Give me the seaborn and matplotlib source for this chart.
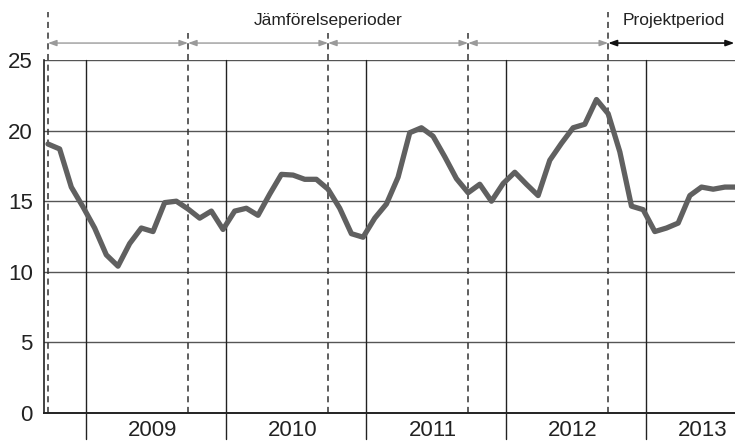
import pandas as pd
import matplotlib.pyplot as plt
import seaborn as sns
import numpy as np

# monthly values, first point = start of the first comparison period
values = [19.05, 18.7, 16.0, 14.6, 13.1, 11.2, 10.4, 12.0, 13.1, 12.85, 14.9, 15.0,
          14.45, 13.8, 14.3, 13.0, 14.3, 14.5, 14.0, 15.5, 16.9, 16.85, 16.55, 16.55,
          15.85, 14.5, 12.7, 12.45, 13.8, 14.8, 16.7, 19.85, 20.2, 19.6, 18.15, 16.6,
          15.6, 16.2, 15.0, 16.25, 17.05, 16.2, 15.4, 17.9, 19.1, 20.2, 20.45, 22.2,
          21.2, 18.5, 14.65, 14.4, 12.85, 13.1, 13.45, 15.4, 16.0, 15.85, 16.0, 16.0]
years = ["2009", "2010", "2011", "2012", "2013"]
yticks = [0, 5, 10, 15, 20, 25]
period_label = "Jämförelseperioder"
project_label = "Projektperiod"

df = pd.DataFrame({"month": np.arange(len(values)), "value": values})

sns.set_style("white")
plt.rcParams["font.family"] = ["Liberation Sans", "DejaVu Sans"]

fig = plt.figure(figsize=(7.35, 4.41), dpi=100)
ax = fig.add_axes([44 / 735, 28 / 441, 691 / 735, 353 / 441])

xmin, xmax = -0.34, 58.87
year_start = 3.25  # first year line, in months from first point

# horizontal grid
for t in yticks[1:]:
    ax.axhline(t, color="#555555", lw=1.0, zorder=1)

# year lines, running down into the label area
for k, yr in enumerate(years):
    xs = year_start + 12 * k
    ax.plot([xs, xs], [-0.075, 1.0], transform=ax.get_xaxis_transform(),
            color="#222222", lw=1.0, clip_on=False, zorder=1)
    xl = min(xs + 5.7, xmax - 2.75)
    ax.text(xl, -0.05, yr, transform=ax.get_xaxis_transform(),
            ha="center", va="center", fontsize=16, color="#222222")

# period boundaries (dashed)
for k in range(5):
    xd = 12 * k
    top = 1.136 if k in (0, 4) else 1.076
    ax.plot([xd, xd], [0, top], transform=ax.get_xaxis_transform(),
            color="#333333", lw=1.1, ls=(0, (4, 3)), clip_on=False, zorder=2)

# arrows for the comparison periods
for k in range(4):
    ax.annotate("", xy=(12 * k + 12, 1.048), xytext=(12 * k, 1.048),
                xycoords=ax.get_xaxis_transform(), textcoords=ax.get_xaxis_transform(),
                arrowprops=dict(arrowstyle="<|-|>,head_length=0.5,head_width=0.18",
                                color="#9a9a9a", lw=1.0, shrinkA=0, shrinkB=0),
                annotation_clip=False)
ax.annotate("", xy=(xmax - 0.05, 1.048), xytext=(48, 1.048),
            xycoords=ax.get_xaxis_transform(), textcoords=ax.get_xaxis_transform(),
            arrowprops=dict(arrowstyle="<|-|>,head_length=0.5,head_width=0.18",
                            color="#111111", lw=1.2, shrinkA=0, shrinkB=0),
            annotation_clip=False)
ax.text(24, 1.113, period_label, transform=ax.get_xaxis_transform(),
        ha="center", va="center", fontsize=12.5, color="#222222")
ax.text(53.6, 1.113, project_label, transform=ax.get_xaxis_transform(),
        ha="center", va="center", fontsize=12.5, color="#222222")

sns.lineplot(data=df, x="month", y="value", ax=ax, color="#606060", lw=3.8,
             solid_capstyle="round", solid_joinstyle="round", zorder=3)

ax.set_xlim(xmin, xmax)
ax.set_ylim(0, 25)
ax.set_yticks(yticks)
ax.set_yticklabels([str(t) for t in yticks], fontsize=16, color="#222222")
ax.set_xticks([])
ax.tick_params(axis="y", length=0, pad=8)
ax.set_xlabel("")
ax.set_ylabel("")
for side in ["top", "right"]:
    ax.spines[side].set_visible(False)
ax.spines["left"].set_color("#222222")
ax.spines["bottom"].set_color("#222222")
ax.spines["left"].set_linewidth(1.2)
ax.spines["bottom"].set_linewidth(1.4)

plt.savefig("out.png", dpi=100)
